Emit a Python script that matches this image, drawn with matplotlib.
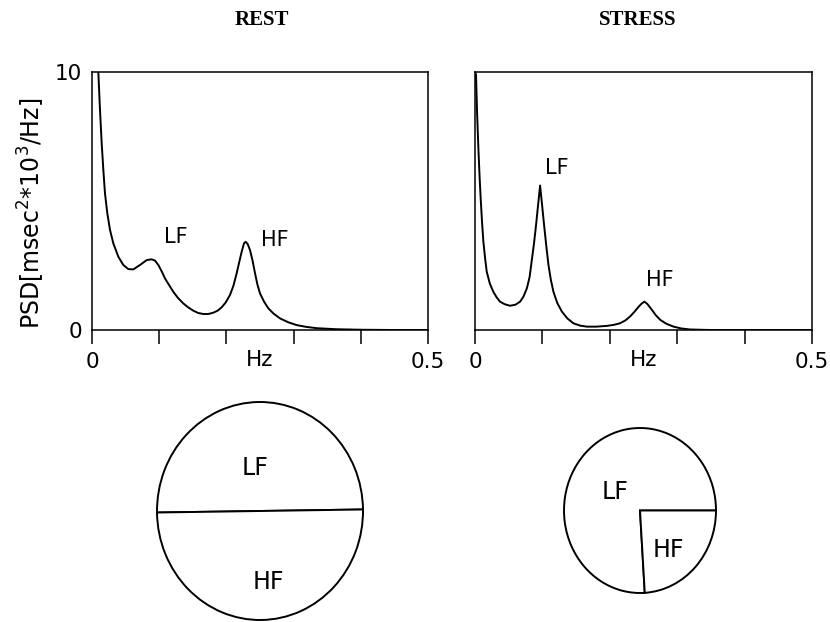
import numpy as np
import matplotlib.pyplot as plt

plt.rcParams["font.family"] = "DejaVu Sans"

# PSD traces (frequency in Hz, PSD in msec^2*10^3/Hz)
rest_freq = [0.0094, 0.0119, 0.0144, 0.0169, 0.0193, 0.0228, 0.0268, 0.0317, 0.0392,
             0.0466, 0.0541, 0.0615, 0.0714, 0.0814, 0.0888, 0.0938, 0.0987, 0.1036,
             0.1086, 0.115, 0.121, 0.128, 0.1359, 0.143, 0.1507, 0.158, 0.1656, 0.173,
             0.1805, 0.187, 0.193, 0.199, 0.2054, 0.2105, 0.2153, 0.219, 0.2227, 0.2262,
             0.2287, 0.2317, 0.2351, 0.239, 0.2426, 0.246, 0.25, 0.256, 0.2624, 0.27,
             0.2798, 0.292, 0.3046, 0.319, 0.3344, 0.364, 0.40, 0.45, 0.50]
rest_psd = [10.0, 8.53, 7.24, 6.20, 5.30, 4.52, 3.88, 3.36, 2.84,
            2.52, 2.36, 2.35, 2.52, 2.71, 2.74, 2.69, 2.52, 2.28,
            2.00, 1.73, 1.48, 1.24, 1.03, 0.88, 0.75, 0.66, 0.62, 0.62,
            0.67, 0.75, 0.88, 1.07, 1.36, 1.72, 2.20, 2.62, 3.03, 3.36,
            3.42, 3.33, 3.10, 2.68, 2.20, 1.78, 1.42, 1.10, 0.84, 0.64,
            0.45, 0.30, 0.19, 0.12, 0.07, 0.03, 0.01, 0.0, 0.0]

stress_freq = [0.0, 0.0015, 0.003, 0.005, 0.0067, 0.0084, 0.0104, 0.0124, 0.0149,
               0.0174, 0.022, 0.027, 0.032, 0.037, 0.044, 0.052, 0.060, 0.067,
               0.072, 0.077, 0.081, 0.084, 0.0875, 0.0906, 0.0936, 0.0966, 0.0995,
               0.1025, 0.1058, 0.109, 0.1125, 0.1163, 0.122, 0.129, 0.137, 0.146,
               0.156, 0.166, 0.18, 0.196, 0.206, 0.215, 0.223, 0.230, 0.237, 0.243,
               0.2475, 0.2515, 0.256, 0.2625, 0.268, 0.275, 0.284, 0.2946, 0.306,
               0.319, 0.35, 0.40, 0.50]
stress_psd = [10.0, 9.9, 8.5, 7.05, 6.0, 5.11, 4.2, 3.43, 2.8,
              2.26, 1.8, 1.49, 1.27, 1.10, 1.0, 0.94, 0.98, 1.10,
              1.30, 1.62, 2.05, 2.65, 3.35, 4.07, 4.85, 5.60, 4.85,
              4.07, 3.25, 2.52, 1.95, 1.49, 1.05, 0.71, 0.45, 0.26,
              0.17, 0.13, 0.13, 0.16, 0.20, 0.26, 0.37, 0.52, 0.72, 0.91,
              1.03, 1.10, 1.00, 0.78, 0.58, 0.39, 0.24, 0.13, 0.06,
              0.02, 0.0, 0.0, 0.0]

# peak label positions (Hz, PSD)
rest_lf_pos = (0.124, 3.6)
rest_hf_pos = (0.272, 3.5)
stress_lf_pos = (0.121, 6.29)
stress_hf_pos = (0.274, 1.94)

# LF / HF share of total power (%)
band_labels = ["LF", "HF"]
rest_share = [50, 50]
stress_share = [76, 24]

xtick_vals = [0.0, 0.1, 0.2, 0.3, 0.4, 0.5]
xtick_text = ["0", "", "", "", "", "0.5"]

W, H = 830, 622
fig = plt.figure(figsize=(W / 100, H / 100), dpi=100)


def box(x0, y0, x1, y1):
    return [x0 / W, 1 - y1 / H, (x1 - x0) / W, (y1 - y0) / H]


ax_rest = fig.add_axes(box(92, 72, 428, 330))
ax_stress = fig.add_axes(box(475, 72, 812, 330))

for ax, fr, psd in [(ax_rest, rest_freq, rest_psd), (ax_stress, stress_freq, stress_psd)]:
    ax.plot(fr, psd, color="black", lw=1.4, solid_joinstyle="round")
    ax.set_xlim(0, 0.5)
    ax.set_ylim(0, 10)
    ax.set_xticks(xtick_vals)
    ax.set_xticklabels(xtick_text)
    ax.tick_params(axis="x", direction="out", length=10, width=1.1, pad=6, labelsize=15.5)
    ax.tick_params(axis="y", length=0, pad=7, labelsize=15.5)
    for s in ax.spines.values():
        s.set_linewidth(1.1)
    ax.set_xlabel("Hz", fontsize=15.5)
    ax.xaxis.set_label_coords(0.5, -0.116)
    ax.xaxis.label.set_verticalalignment("center")

ax_rest.set_yticks([0, 10])
ax_rest.set_yticklabels(["0", "10"])
ax_rest.set_ylabel(r"PSD[msec$^2$*10$^3$/Hz]", fontsize=17)
ax_rest.yaxis.set_label_coords(-0.135, 0.45)
ax_stress.set_yticks([])

ax_rest.text(*rest_lf_pos, "LF", fontsize=15, ha="center", va="center")
ax_rest.text(*rest_hf_pos, "HF", fontsize=15, ha="center", va="center")
ax_stress.text(*stress_lf_pos, "LF", fontsize=15, ha="center", va="center")
ax_stress.text(*stress_hf_pos, "HF", fontsize=15, ha="center", va="center")

fig.text(261.7 / W, 1 - 20 / H, "REST", family="Liberation Serif", weight="bold",
         fontsize=15, ha="center", va="center")
fig.text(637.5 / W, 1 - 20 / H, "STRESS", family="Liberation Serif", weight="bold",
         fontsize=15, ha="center", va="center")


def pie_axes(cx, cy, rx, ry, m=1.04):
    return fig.add_axes(box(cx - rx * m, cy - ry * m, cx + rx * m, cy + ry * m))


ax_p1 = pie_axes(260, 511, 103, 109)
ax_p2 = pie_axes(640, 510.5, 76, 82.5)

for ax, share, start in [(ax_p1, rest_share, 0.8), (ax_p2, stress_share, 0)]:
    ax.pie(share, startangle=start, colors=["white", "white"], counterclock=True,
           wedgeprops=dict(edgecolor="black", linewidth=1.4))
    ax.set_aspect("auto")
    ax.set_xlim(-1.04, 1.04)
    ax.set_ylim(-1.04, 1.04)
    ax.axis("off")

ax_p1.text(-0.05, 0.39, band_labels[0], fontsize=17, ha="center", va="center")
ax_p1.text(0.08, -0.65, band_labels[1], fontsize=17, ha="center", va="center")
ax_p2.text(-0.33, 0.22, band_labels[0], fontsize=17, ha="center", va="center")
ax_p2.text(0.37, -0.48, band_labels[1], fontsize=17, ha="center", va="center")

fig.savefig("out.png", dpi=100)
